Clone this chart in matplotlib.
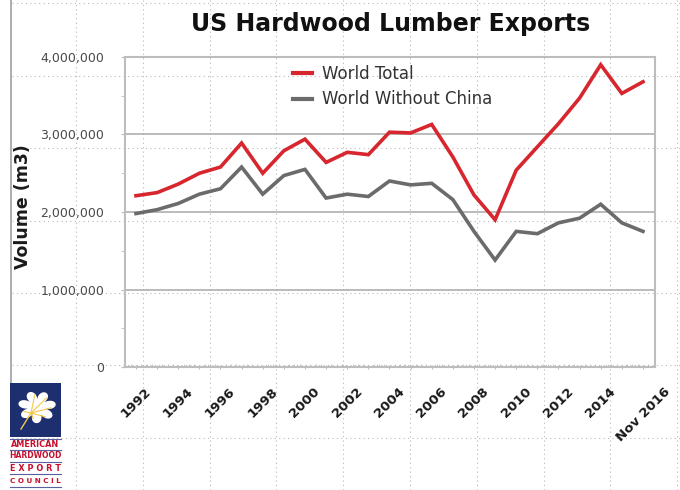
import matplotlib
matplotlib.use("Agg")
import matplotlib.pyplot as plt
import numpy as np
from matplotlib.lines import Line2D
from matplotlib.patches import Rectangle, Polygon
from matplotlib.ticker import FuncFormatter, MultipleLocator

# data (m3)
years = list(range(1992, 2017))
world_total = [2210000, 2250000, 2360000, 2500000, 2580000, 2890000, 2500000, 2790000,
               2940000, 2640000, 2770000, 2740000, 3030000, 3020000, 3130000, 2710000,
               2220000, 1900000, 2540000, 2840000, 3140000, 3470000, 3900000, 3530000,
               3680000]
world_no_china = [1980000, 2030000, 2110000, 2230000, 2300000, 2580000, 2230000, 2470000,
                  2550000, 2180000, 2230000, 2200000, 2400000, 2350000, 2370000, 2160000,
                  1750000, 1380000, 1750000, 1720000, 1860000, 1920000, 2100000, 1860000,
                  1750000]
tick_years = [1992, 1994, 1996, 1998, 2000, 2002, 2004, 2006, 2008, 2010, 2012, 2014, 2016]
tick_labels = ["1992", "1994", "1996", "1998", "2000", "2002", "2004", "2006", "2008",
               "2010", "2012", "2014", "Nov 2016"]

W, H = 680, 490
fig = plt.figure(figsize=(W / 100, H / 100), dpi=100)
fig.patch.set_facecolor("white")


def fx(px):
    return px / W


def fy(py):
    return 1 - py / H


# slide background: dotted guide grid + left rule
for px in 76 + 66.8 * np.arange(10):
    fig.add_artist(Line2D([fx(px), fx(px)], [0, 1], color="#b8b8b8", lw=0.8,
                          ls=(0, (1, 3)), zorder=0))
for py in 3.5 + 72.4 * np.arange(7):
    fig.add_artist(Line2D([fx(12), 1], [fy(py), fy(py)], color="#b8b8b8", lw=0.8,
                          ls=(0, (1, 3)), zorder=0))
fig.add_artist(Line2D([fx(11), fx(11)], [fy(0), fy(383)], color="#a0a0a0", lw=1.2, zorder=1))

ax = fig.add_axes([fx(125), fy(367), fx(655) - fx(125), fy(57) - fy(367)])
ax.set_facecolor("none")

ax.plot(years, world_total, color="#d7262e", lw=2.6, label="World Total", zorder=3,
        solid_joinstyle="miter")
ax.plot(years, world_no_china, color="#6b6b6b", lw=2.6, label="World Without China", zorder=3,
        solid_joinstyle="miter")

ax.set_xlim(1991.48, 2016.57)
ax.set_ylim(0, 4000000)

ax.yaxis.set_major_locator(MultipleLocator(1000000))
ax.yaxis.set_minor_locator(MultipleLocator(500000))
ax.yaxis.set_major_formatter(FuncFormatter(lambda v, p: f"{int(v):,}"))
ax.grid(axis="y", color="#a8a8a8", lw=1.1)
ax.set_axisbelow(True)

ax.set_xticks(years)
ax.set_xticks(np.arange(1991.5, 2016.6, 0.25), minor=True)
ax.set_xticklabels([])
for yr, lab in zip(tick_years, tick_labels):
    ax.annotate(lab, xy=(yr, 0), xycoords=("data", "axes fraction"),
                xytext=(0, -13), textcoords="offset points",
                rotation=45, ha="center", va="top", fontsize=9.5, fontweight="bold",
                color="#1a1a1a")

for s in ax.spines.values():
    s.set_color("#bdbdbd")
    s.set_linewidth(1.5)

ax.tick_params(axis="x", which="major", length=3, color="#bdbdbd", direction="inout")
ax.tick_params(axis="x", which="minor", length=2, color="#bdbdbd", direction="in")
ax.tick_params(axis="y", which="both", length=3, color="#bdbdbd", direction="out",
               labelsize=9, labelcolor="#4a4a4a", pad=12)

fig.text(fx(23), fy(207), "Volume (m3)", rotation=90, ha="center", va="center",
         fontsize=12.5, fontweight="bold", color="#1a1a1a")
fig.text(fx(391), fy(24), "US Hardwood Lumber Exports", ha="center", va="center",
         fontsize=17, fontweight="bold", color="#111111")

leg = ax.legend(loc="upper left", bbox_to_anchor=(fx(293), fy(65)),
                bbox_transform=fig.transFigure, frameon=False, fontsize=12,
                handlelength=1.15, handletextpad=0.6, labelspacing=0.45,
                borderpad=0, borderaxespad=0)
for t in leg.get_texts():
    t.set_color("#333333")
for h in leg.get_lines():
    h.set_linewidth(3)

# AHEC logo
navy = "#1d2f6f"
red = "#c8102e"
fig.add_artist(Rectangle((fx(10), fy(437)), fx(61) - fx(10), fy(383) - fy(437),
                         facecolor=navy, edgecolor="none", zorder=2))
cx, cy = 37, 407
ang = np.linspace(0, 2 * np.pi, 300)
r = 19 * (0.45 + 0.55 * np.abs(np.cos(3.5 * ang)) ** 0.6)
lx = cx + r * np.cos(ang + 0.7)
ly = cy + r * np.sin(ang + 0.7) * 0.85
fig.add_artist(Polygon(np.column_stack([fx(lx), fy(ly)]), closed=True,
                       facecolor="white", edgecolor="none", zorder=3))
for a in [0.25, 1.15, 2.05, 3.85, 4.75, 5.65]:
    fig.add_artist(Line2D([fx(cx - 6), fx(cx + 14 * np.cos(a + 0.7))],
                          [fy(cy + 6), fy(cy + 12 * np.sin(a + 0.7))],
                          color="#f2c94c", lw=0.8, zorder=4))
fig.add_artist(Line2D([fx(cx - 6), fx(cx - 16)], [fy(cy + 6), fy(cy + 22)],
                      color="#f2c94c", lw=1.0, zorder=4))

rows = [("AMERICAN", 444, 5.9), ("HARDWOOD", 456, 5.5), ("E X P O R T", 468, 5.9),
        ("C O U N C I L", 481, 5.2)]
for txt, py, fs in rows:
    fig.text(fx(35.5), fy(py), txt, ha="center", va="center", fontsize=fs,
             fontweight="bold", color=red, zorder=3)
for py in [438.5, 450, 462, 474, 487]:
    fig.add_artist(Line2D([fx(10), fx(61)], [fy(py), fy(py)], color="#5b5fa0",
                          lw=0.8, zorder=3))

fig.savefig("out.png", dpi=100, facecolor="white")
